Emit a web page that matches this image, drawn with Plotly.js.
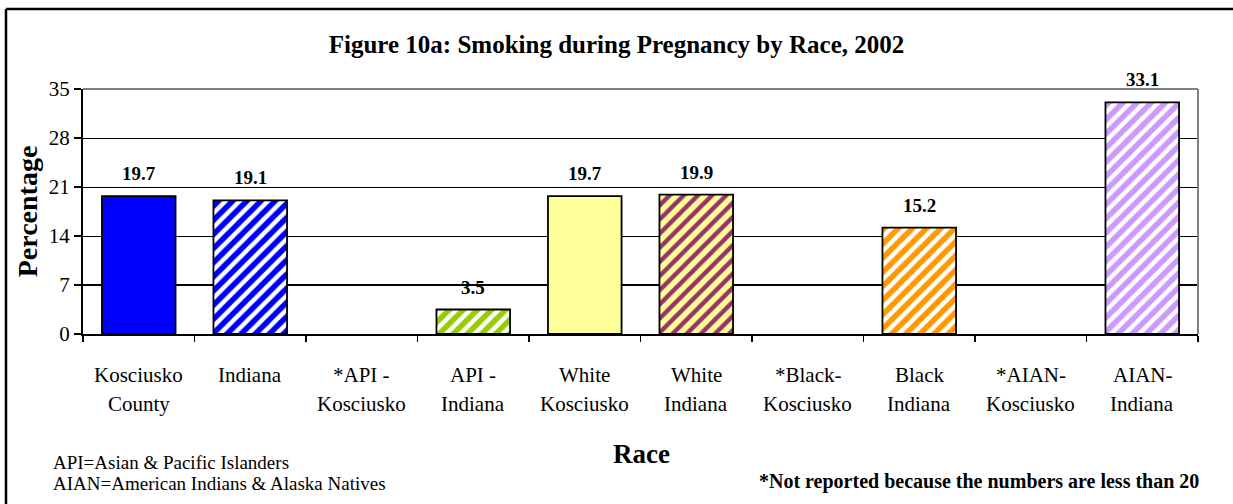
<!DOCTYPE html>
<html>
<head>
<meta charset="utf-8">
<script src="https://cdn.plot.ly/plotly-3.0.1.min.js"></script>
<style>
  html, body { margin: 0; padding: 0; background: #fff; }
  #chart { width: 1233px; height: 504px; }
</style>
</head>
<body>
<div id="chart"></div>
<script>
var categories = ['Kosciusko County', 'Indiana', '*API - Kosciusko', 'API - Indiana', 'White Kosciusko',
                  'White Indiana', '*Black- Kosciusko', 'Black Indiana', '*AIAN- Kosciusko', 'AIAN- Indiana'];
var labelLine1 = ['Kosciusko', 'Indiana', '*API -', 'API -', 'White', 'White', '*Black-', 'Black', '*AIAN-', 'AIAN-'];
var labelLine2 = ['County', '', 'Kosciusko', 'Indiana', 'Kosciusko', 'Indiana', 'Kosciusko', 'Indiana', 'Kosciusko', 'Indiana'];
var values = [19.7, 19.1, null, 3.5, 19.7, 19.9, null, 15.2, null, 33.1];
var barColors = ['#0000FF', '#0000FF', '#FFFFFF', '#99CC00', '#FFFF99', '#FFFF99', '#FFFFFF', '#FF9900', '#FFFFFF', '#CC99FF'];
var stripeColors = ['#FFFFFF', '#FFFFFF', '#FFFFFF', '#FFFFFF', '#FFFFFF', '#993366', '#FFFFFF', '#FFFFFF', '#FFFFFF', '#FFFFFF'];
var stripeShapes = ['', '/', '', '/', '', '/', '', '/', '', '/'];
var yTicks = [0, 7, 14, 21, 28, 35];
var titleText = 'Figure 10a: Smoking during Pregnancy by Race, 2002';
var xTitle = 'Race';
var yTitle = 'Percentage';
var noteLeft1 = 'API=Asian &amp; Pacific Islanders';
var noteLeft2 = 'AIAN=American Indians &amp; Alaska Natives';
var noteRight = '*Not reported because the numbers are less than 20';

var serif = 'Liberation Serif';

var L = 83, R = 1198, T = 89, B = 334, W = 1233, H = 504;
var pw = R - L, ph = B - T;
function px(x) { return (x - L) / pw; }
function py(y) { return (B - y) / ph; }

// one trace per bar so each keeps its own fill and stripe colours
var traces = categories.map(function (c, i) {
  var m = { color: barColors[i], line: { color: '#000000', width: 1.8 } };
  if (stripeShapes[i]) {
    m.pattern = { shape: stripeShapes[i], fgcolor: stripeColors[i], bgcolor: barColors[i],
                  size: 10, solidity: 0.45, fillmode: 'replace' };
  }
  return { type: 'bar', x: [c], y: [values[i]], width: 0.66, marker: m, hoverinfo: 'x+y' };
});

var annotations = [];
for (var i = 0; i < categories.length; i++) {
  if (values[i] !== null) {
    annotations.push({
      x: categories[i], y: values[i], xref: 'x', yref: 'y',
      text: '<b>' + values[i].toFixed(1) + '</b>',
      showarrow: false, yanchor: 'bottom', yshift: 10,
      font: { family: serif, size: 19, color: '#000' }
    });
  }
  annotations.push({
    x: categories[i], y: py(375), xref: 'x', yref: 'paper',
    text: labelLine1[i], showarrow: false, yanchor: 'middle',
    font: { family: serif, size: 21, color: '#000' }
  });
  if (labelLine2[i]) {
    annotations.push({
      x: categories[i], y: py(404), xref: 'x', yref: 'paper',
      text: labelLine2[i], showarrow: false, yanchor: 'middle',
      font: { family: serif, size: 21, color: '#000' }
    });
  }
}
annotations.push({
  x: px(641), y: py(454), xref: 'paper', yref: 'paper', text: '<b>' + xTitle + '</b>',
  showarrow: false, yanchor: 'middle', font: { family: serif, size: 27, color: '#000' }
});
annotations.push({
  x: px(51), y: py(462), xref: 'paper', yref: 'paper', text: noteLeft1,
  showarrow: false, xanchor: 'left', yanchor: 'middle', font: { family: serif, size: 19, color: '#000' }
});
annotations.push({
  x: px(51), y: py(483), xref: 'paper', yref: 'paper', text: noteLeft2,
  showarrow: false, xanchor: 'left', yanchor: 'middle', font: { family: serif, size: 19, color: '#000' }
});
annotations.push({
  x: px(1201), y: py(481), xref: 'paper', yref: 'paper', text: '<b>' + noteRight + '</b>',
  showarrow: false, xanchor: 'right', yanchor: 'middle', font: { family: serif, size: 20, color: '#000' }
});

var layout = {
  width: W, height: H,
  margin: { l: L, r: W - R, t: T, b: H - B, pad: 0 },
  paper_bgcolor: '#FFFFFF', plot_bgcolor: '#FFFFFF',
  font: { family: serif, color: '#000' },
  showlegend: false,
  barmode: 'overlay',
  title: {
    text: '<b>' + titleText + '</b>',
    x: 0.5, xanchor: 'center', y: 1 - 44 / H, yanchor: 'middle',
    font: { family: serif, size: 25, color: '#000' }
  },
  xaxis: {
    type: 'category',
    categoryorder: 'array', categoryarray: categories,
    showticklabels: false,
    ticks: 'outside', ticklen: 6, tickwidth: 1.5, tickcolor: '#000',
    tickson: 'boundaries',
    showline: true, linecolor: '#000', linewidth: 2,
    showgrid: false, zeroline: false, fixedrange: true
  },
  yaxis: {
    range: [0, 35],
    tickvals: yTicks, ticktext: yTicks.map(String),
    ticks: 'outside', ticklen: 7, tickwidth: 1.5, tickcolor: '#000',
    tickfont: { family: serif, size: 21, color: '#000' },
    showline: true, linecolor: '#000', linewidth: 2,
    showgrid: true, gridcolor: '#000', gridwidth: 1,
    zeroline: false, fixedrange: true,
    title: { text: '<b>' + yTitle + '</b>', standoff: 3, font: { family: serif, size: 28, color: '#000' } }
  },
  annotations: annotations,
  shapes: [
    // the lowest gridline is drawn heavier in the original
    { type: 'line', xref: 'paper', yref: 'y', x0: 0, x1: 1, y0: yTicks[1], y1: yTicks[1], line: { color: '#000', width: 2 }, layer: 'below' },
    { type: 'line', xref: 'paper', yref: 'paper', x0: 0, x1: 1, y0: 1, y1: 1, line: { color: '#808080', width: 2 } },
    { type: 'line', xref: 'paper', yref: 'paper', x0: 1, x1: 1, y0: 0, y1: 1, line: { color: '#808080', width: 2 } },
    // outer frame: only its left and top edges fall inside the picture
    { type: 'line', xref: 'paper', yref: 'paper', x0: px(6), x1: px(W + 5), y0: py(9), y1: py(9), line: { color: '#000', width: 2.5 } },
    { type: 'line', xref: 'paper', yref: 'paper', x0: px(6), x1: px(6), y0: py(9), y1: py(H + 5), line: { color: '#000', width: 2.5 } }
  ]
};

Plotly.newPlot('chart', traces, layout, { staticPlot: true, displayModeBar: false });
</script>
</body>
</html>
